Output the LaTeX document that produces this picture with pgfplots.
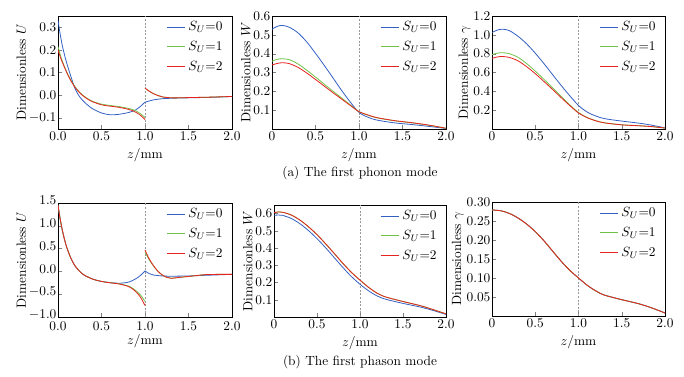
\documentclass[border=0pt]{standalone}
\usepackage{pgfplots}
\pgfplotsset{compat=1.18}
\definecolor{cblue}{RGB}{50,95,195}
\definecolor{cgreen}{RGB}{110,195,70}
\definecolor{cred}{RGB}{230,35,30}
\pgfplotsset{
  panel/.style={
    scale only axis, xmin=0, xmax=2,
    xtick={0,0.5,1,1.5,2},
    xticklabels={$0$,$0.5$,$1.0$,$1.5$,$2.0$},
    tick align=inside, xtick pos=bottom, ytick pos=left,
    major tick length=3pt,
    xlabel={$z/\mathrm{mm}$},
    yticklabel style={inner sep=1pt},
    xticklabel style={inner sep=2pt},
    ylabel style={inner sep=1pt},
    xlabel style={inner sep=3.5pt},
    every axis plot/.append style={line width=0.6pt},
    legend style={draw=none, fill=none, at={(0.97,0.99)}, anchor=north east, row sep=2.5pt, inner sep=1pt},
    legend cell align=left,
    legend image code/.code={\draw[##1] (0pt,0pt) -- (14pt,0pt);},
  },
  vline/.style={gray!80, dash pattern=on 1.5pt off 1.2pt, line width=0.6pt, forget plot},
}
\begin{document}
\begin{tikzpicture}
\useasboundingbox (0,0) rectangle (513pt,282pt);
% ---------- (a) U ----------
\begin{axis}[panel, at={(43.5pt,185.25pt)}, anchor=south west, width=130.5pt, height=84.75pt,
  ymin=-0.15, ymax=0.35, ytick={-0.1,0,0.1,0.2,0.3},
  yticklabels={$-0.1$,$0.0$,$0.1$,$0.2$,$0.3$},
  xticklabels={$0.0$,$0.5$,$1.0$,$1.5$,$2.0$},
  ylabel={Dimensionless $U$}]
\addplot[vline] coordinates {(1,-0.15) (1,0.35)};
\addplot[cblue, smooth] coordinates {(0,0.33)(0.025,0.27)(0.05,0.218)(0.075,0.178)(0.1,0.142)(0.15,0.08)(0.2,0.025)(0.25,-0.008)(0.3,-0.03)(0.35,-0.047)(0.4,-0.061)(0.5,-0.079)(0.6,-0.087)(0.7,-0.085)(0.8,-0.078)(0.87,-0.07)(0.9,-0.064)(0.95,-0.049)(1.0,-0.031)};
\addlegendentry{$S_U{=}0$}
\addplot[cgreen, smooth] coordinates {(0,0.215)(0.025,0.18)(0.05,0.15)(0.1,0.103)(0.15,0.065)(0.2,0.035)(0.25,0.012)(0.3,-0.005)(0.35,-0.018)(0.4,-0.028)(0.5,-0.04)(0.6,-0.046)(0.7,-0.051)(0.8,-0.058)(0.85,-0.063)(0.9,-0.071)(0.95,-0.083)(1.0,-0.099)};
\addlegendentry{$S_U{=}1$}
\addplot[cred, smooth] coordinates {(0,0.2)(0.025,0.17)(0.05,0.145)(0.1,0.1)(0.15,0.062)(0.2,0.032)(0.25,0.01)(0.3,-0.007)(0.35,-0.02)(0.4,-0.03)(0.5,-0.043)(0.6,-0.049)(0.7,-0.054)(0.8,-0.062)(0.85,-0.068)(0.9,-0.077)(0.95,-0.09)(1.0,-0.108)};
\addlegendentry{$S_U{=}2$}
\addplot[cblue, smooth, forget plot] coordinates {(1.0,-0.031)(1.05,-0.026)(1.1,-0.021)(1.2,-0.016)(1.3,-0.014)(1.5,-0.012)(1.75,-0.01)(2.0,-0.006)};
\addplot[cgreen, smooth, forget plot] coordinates {(1.0,0.03)(1.05,0.017)(1.1,0.006)(1.15,-0.002)(1.2,-0.008)(1.3,-0.012)(1.4,-0.012)(1.5,-0.011)(1.75,-0.009)(2.0,-0.006)};
\addplot[cred, smooth, forget plot] coordinates {(1.0,0.031)(1.05,0.017)(1.1,0.006)(1.15,-0.002)(1.2,-0.008)(1.3,-0.012)(1.4,-0.012)(1.5,-0.011)(1.75,-0.009)(2.0,-0.006)};
\end{axis}
% ---------- (a) W ----------
\begin{axis}[panel, at={(204pt,185.25pt)}, anchor=south west, width=130.5pt, height=84.75pt,
  ymin=0, ymax=0.6, ytick={0.1,0.2,0.3,0.4,0.5,0.6},
  yticklabels={$0.1$,$0.2$,$0.3$,$0.4$,$0.5$,$0.6$},
  ylabel={Dimensionless $W$}]
\addplot[vline] coordinates {(1,0) (1,0.6)};
\addplot[cblue, smooth] coordinates {(0,0.53)(0.06,0.545)(0.12,0.55)(0.2,0.54)(0.3,0.51)(0.4,0.462)(0.5,0.402)(0.6,0.338)(0.7,0.272)(0.8,0.205)(0.9,0.143)(1.0,0.088)(1.1,0.063)(1.2,0.048)(1.4,0.033)(1.6,0.024)(1.8,0.014)(2.0,0.003)};
\addlegendentry{$S_U{=}0$}
\addplot[cgreen, smooth] coordinates {(0,0.36)(0.06,0.37)(0.12,0.373)(0.2,0.368)(0.3,0.345)(0.4,0.312)(0.5,0.276)(0.6,0.238)(0.7,0.201)(0.8,0.165)(0.9,0.128)(1.0,0.092)(1.1,0.074)(1.2,0.06)(1.4,0.044)(1.6,0.033)(1.8,0.02)(2.0,0.004)};
\addlegendentry{$S_U{=}1$}
\addplot[cred, smooth] coordinates {(0,0.34)(0.06,0.348)(0.12,0.352)(0.2,0.347)(0.3,0.327)(0.4,0.297)(0.5,0.263)(0.6,0.228)(0.7,0.193)(0.8,0.159)(0.9,0.125)(1.0,0.092)(1.1,0.075)(1.2,0.061)(1.4,0.045)(1.6,0.034)(1.8,0.021)(2.0,0.004)};
\addlegendentry{$S_U{=}2$}
\end{axis}
% ---------- (a) gamma ----------
\begin{axis}[panel, at={(369pt,185.25pt)}, anchor=south west, width=129.75pt, height=84.75pt,
  ymin=0, ymax=1.2, ytick={0.2,0.4,0.6,0.8,1.0,1.2},
  yticklabels={$0.2$,$0.4$,$0.6$,$0.8$,$1.0$,$1.2$},
  ylabel={Dimensionless $\gamma$}]
\addplot[vline] coordinates {(1,0) (1,1.2)};
\addplot[cblue, smooth] coordinates {(0,1.025)(0.06,1.05)(0.12,1.06)(0.2,1.045)(0.3,0.985)(0.4,0.905)(0.5,0.805)(0.6,0.695)(0.7,0.578)(0.8,0.462)(0.9,0.352)(1.0,0.25)(1.1,0.18)(1.2,0.138)(1.3,0.11)(1.5,0.084)(1.7,0.062)(1.85,0.04)(2.0,0.012)};
\addlegendentry{$S_U{=}0$}
\addplot[cgreen, smooth] coordinates {(0,0.79)(0.06,0.805)(0.12,0.81)(0.2,0.8)(0.3,0.762)(0.4,0.695)(0.5,0.615)(0.6,0.528)(0.7,0.438)(0.8,0.345)(0.9,0.255)(1.0,0.175)(1.1,0.122)(1.2,0.088)(1.3,0.066)(1.5,0.045)(1.7,0.035)(1.85,0.025)(2.0,0.01)};
\addlegendentry{$S_U{=}1$}
\addplot[cred, smooth] coordinates {(0,0.75)(0.06,0.765)(0.12,0.77)(0.2,0.76)(0.3,0.724)(0.4,0.662)(0.5,0.588)(0.6,0.505)(0.7,0.42)(0.8,0.333)(0.9,0.248)(1.0,0.17)(1.1,0.12)(1.2,0.087)(1.3,0.065)(1.5,0.044)(1.7,0.034)(1.85,0.025)(2.0,0.01)};
\addlegendentry{$S_U{=}2$}
\node[anchor=south west, inner sep=1pt] at (rel axis cs:0,1) {$\times10^{-2}$};
\end{axis}
% ---------- (b) U ----------
\begin{axis}[panel, at={(43.5pt,44.25pt)}, anchor=south west, width=130.5pt, height=85.5pt,
  ymin=-1.0, ymax=1.5, ytick={-1,-0.5,0,0.5,1,1.5},
  yticklabels={$-1.0$,$-0.5$,$0.0$,$0.5$,$1.0$,$1.5$},
  xticklabels={$0.0$,$0.5$,$1.0$,$1.5$,$2.0$},
  yticklabel style={inner sep=1pt, yshift=2pt},
  xticklabel style={inner sep=1pt, yshift=-2.5pt},
  xlabel style={yshift=1.5pt},
  ylabel={Dimensionless $U$}]
\addplot[vline] coordinates {(1,-1) (1,1.5)};
\addplot[cblue, smooth] coordinates {(0,1.45)(0.025,1.15)(0.05,0.9)(0.075,0.7)(0.1,0.53)(0.15,0.28)(0.2,0.11)(0.25,0.0)(0.3,-0.08)(0.4,-0.17)(0.5,-0.22)(0.6,-0.245)(0.7,-0.26)(0.8,-0.24)(0.85,-0.205)(0.9,-0.155)(0.95,-0.085)(1.0,0.01)};
\addlegendentry{$S_U{=}0$}
\addplot[cgreen, smooth] coordinates {(0,1.45)(0.025,1.15)(0.05,0.9)(0.075,0.7)(0.1,0.53)(0.15,0.28)(0.2,0.11)(0.25,0.0)(0.3,-0.08)(0.4,-0.17)(0.5,-0.22)(0.6,-0.248)(0.7,-0.27)(0.8,-0.315)(0.85,-0.36)(0.9,-0.43)(0.95,-0.52)(1.0,-0.66)};
\addlegendentry{$S_U{=}1$}
\addplot[cred, smooth] coordinates {(0,1.45)(0.025,1.15)(0.05,0.9)(0.075,0.7)(0.1,0.53)(0.15,0.28)(0.2,0.11)(0.25,0.0)(0.3,-0.08)(0.4,-0.17)(0.5,-0.22)(0.6,-0.25)(0.7,-0.275)(0.8,-0.325)(0.85,-0.375)(0.9,-0.455)(0.95,-0.57)(1.0,-0.75)};
\addlegendentry{$S_U{=}2$}
\addplot[cblue, smooth, forget plot] coordinates {(1.0,0.01)(1.05,-0.05)(1.1,-0.08)(1.2,-0.1)(1.3,-0.105)(1.5,-0.1)(1.7,-0.085)(2.0,-0.065)};
\addplot[cgreen, smooth, forget plot] coordinates {(1.0,0.42)(1.05,0.25)(1.1,0.11)(1.15,0.0)(1.2,-0.08)(1.25,-0.13)(1.3,-0.15)(1.4,-0.13)(1.5,-0.11)(1.6,-0.09)(1.7,-0.07)(1.85,-0.065)(2.0,-0.065)};
\addplot[cred, smooth, forget plot] coordinates {(1.0,0.47)(1.05,0.27)(1.1,0.12)(1.15,0.0)(1.2,-0.08)(1.25,-0.13)(1.3,-0.15)(1.4,-0.13)(1.5,-0.11)(1.6,-0.09)(1.7,-0.07)(1.85,-0.065)(2.0,-0.065)};
\node[anchor=south west, inner sep=1pt] at (rel axis cs:0,1) {$\times10^{-2}$};
\end{axis}
% ---------- (b) W ----------
\begin{axis}[panel, at={(205.5pt,44.25pt)}, anchor=south west, width=129pt, height=84pt,
  ymin=0, ymax=0.65, ytick={0.1,0.2,0.3,0.4,0.5,0.6},
  yticklabels={$0.1$,$0.2$,$0.3$,$0.4$,$0.5$,$0.6$},
  ylabel={Dimensionless $W$}]
\addplot[vline] coordinates {(1,0) (1,0.65)};
\addplot[cblue, smooth] coordinates {(0,0.59)(0.05,0.592)(0.1,0.59)(0.2,0.572)(0.3,0.542)(0.4,0.502)(0.5,0.455)(0.6,0.402)(0.7,0.345)(0.8,0.288)(0.9,0.235)(1.0,0.19)(1.1,0.152)(1.2,0.122)(1.3,0.103)(1.5,0.079)(1.7,0.058)(1.85,0.038)(2.0,0.015)};
\addlegendentry{$S_U{=}0$}
\addplot[cgreen, smooth] coordinates {(0,0.605)(0.05,0.61)(0.1,0.608)(0.2,0.592)(0.3,0.563)(0.4,0.524)(0.5,0.478)(0.6,0.425)(0.7,0.369)(0.8,0.312)(0.9,0.259)(1.0,0.214)(1.1,0.172)(1.2,0.138)(1.3,0.116)(1.5,0.09)(1.7,0.066)(1.85,0.043)(2.0,0.018)};
\addlegendentry{$S_U{=}1$}
\addplot[cred, smooth] coordinates {(0,0.605)(0.05,0.61)(0.1,0.608)(0.2,0.592)(0.3,0.563)(0.4,0.524)(0.5,0.478)(0.6,0.425)(0.7,0.369)(0.8,0.312)(0.9,0.259)(1.0,0.214)(1.1,0.172)(1.2,0.138)(1.3,0.116)(1.5,0.09)(1.7,0.066)(1.85,0.043)(2.0,0.018)};
\addlegendentry{$S_U{=}2$}
\node[anchor=south west, inner sep=1pt] at (rel axis cs:0,1) {$\times10^{-2}$};
\end{axis}
% ---------- (b) gamma ----------
\begin{axis}[panel, at={(369pt,45pt)}, anchor=south west, width=129.75pt, height=85.5pt,
  ymin=0, ymax=0.30, ytick={0.05,0.1,0.15,0.2,0.25,0.3},
  yticklabels={$0.05$,$0.10$,$0.15$,$0.20$,$0.25$,$0.30$},
  ylabel={Dimensionless $\gamma$}]
\addplot[vline] coordinates {(1,0) (1,0.3)};
\addplot[cblue, smooth] coordinates {(0,0.279)(0.1,0.277)(0.2,0.27)(0.3,0.258)(0.4,0.242)(0.5,0.222)(0.6,0.198)(0.7,0.171)(0.8,0.144)(0.9,0.12)(1.0,0.1)(1.1,0.081)(1.2,0.066)(1.3,0.055)(1.5,0.043)(1.7,0.032)(1.85,0.021)(2.0,0.008)};
\addlegendentry{$S_U{=}0$}
\addplot[cgreen, smooth] coordinates {(0,0.279)(0.1,0.277)(0.2,0.27)(0.3,0.258)(0.4,0.242)(0.5,0.222)(0.6,0.198)(0.7,0.171)(0.8,0.144)(0.9,0.12)(1.0,0.1)(1.1,0.081)(1.2,0.066)(1.3,0.055)(1.5,0.043)(1.7,0.032)(1.85,0.021)(2.0,0.008)};
\addlegendentry{$S_U{=}1$}
\addplot[cred, smooth] coordinates {(0,0.279)(0.1,0.277)(0.2,0.27)(0.3,0.258)(0.4,0.242)(0.5,0.222)(0.6,0.198)(0.7,0.171)(0.8,0.144)(0.9,0.12)(1.0,0.1)(1.1,0.081)(1.2,0.066)(1.3,0.055)(1.5,0.043)(1.7,0.032)(1.85,0.021)(2.0,0.008)};
\addlegendentry{$S_U{=}2$}
\end{axis}
% captions
\node at (270pt,152.25pt) {(a) The first phonon mode};
\node at (270pt,10.5pt) {(b) The first phason mode};
\end{tikzpicture}
\end{document}
